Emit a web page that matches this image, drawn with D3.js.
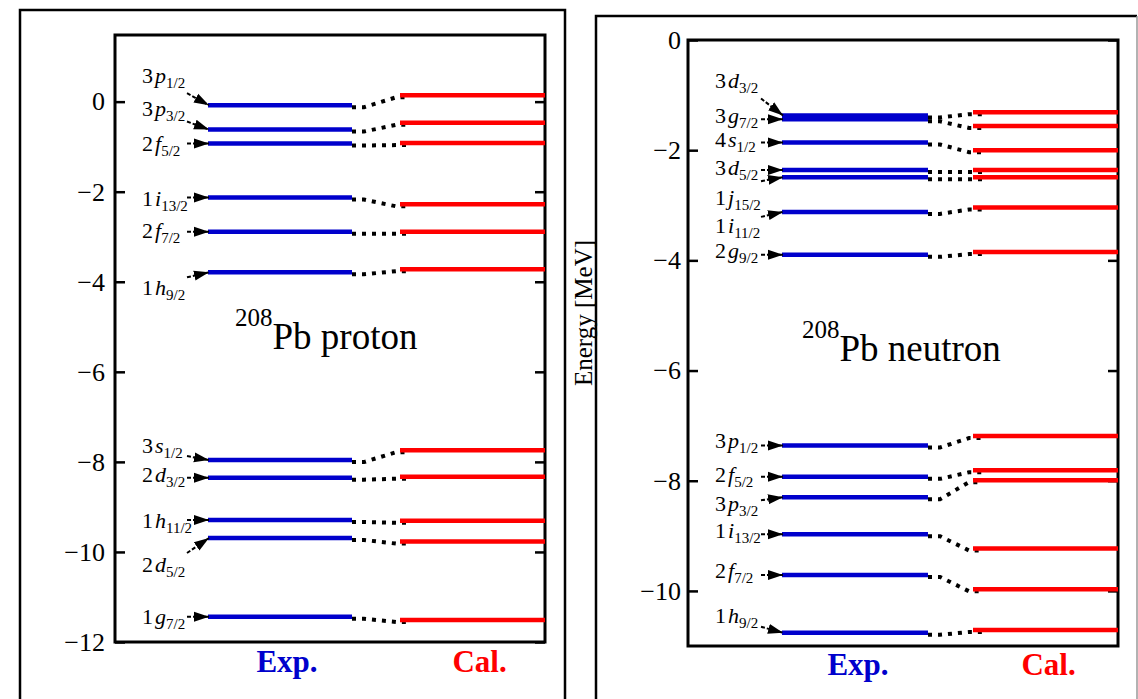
<!DOCTYPE html>
<html><head><meta charset="utf-8">
<script src="https://cdn.jsdelivr.net/npm/d3@7"></script>
<style>body{margin:0;background:#fff} svg{display:block}</style>
</head><body>
<svg id="chart" width="1138" height="699"></svg>
<script>
// ---------------- data ----------------
const protonStates = ["3p1/2","3p3/2","2f5/2","1i13/2","2f7/2","1h9/2","3s1/2","2d3/2","1h11/2","2d5/2","1g7/2"];
const protonExp = [-0.08,-0.62,-0.93,-2.13,-2.89,-3.79,-7.96,-8.35,-9.29,-9.69,-11.44];
const protonCal = [0.14,-0.47,-0.92,-2.28,-2.89,-3.72,-7.74,-8.33,-9.31,-9.77,-11.51];
const protonTicks = [0,-2,-4,-6,-8,-10,-12];

const neutronStates = ["3d3/2","3g7/2","4s1/2","3d5/2","1j15/2","1i11/2","2g9/2","3p1/2","2f5/2","3p3/2","1i13/2","2f7/2","1h9/2"];
const neutronExp = [-1.37,-1.44,-1.86,-2.36,-2.49,-3.12,-3.90,-7.36,-7.93,-8.30,-8.97,-9.71,-10.76];
const neutronCal = [-1.31,-1.56,-2.00,-2.36,-2.49,-3.04,-3.85,-7.19,-7.81,-7.99,-9.23,-9.97,-10.71];
const neutronTicks = [0,-2,-4,-6,-8,-10];

const columns = ["Exp.","Cal."];
const yTitle = "Energy [MeV]";

// ---------------- layout (label offsets in px relative to bar) ----------------
const protonLabelDy = [-22,-14,7,8,6,23,-7,4,8,34,7];
const protonArrowDy = [-12,-8,0,0,0,5,-4,0,0,15,0];
const neutronLabelDy = [-27,4,5,5,28,21,3,3,5,14,4,3,-10];
const neutronArrowDy = [-17,0,0,0,4,5,0,0,0,3,0,0,-6];

const BLUE = "#0000cc", RED = "#ff0000";
const SERIF = "Liberation Serif, DejaVu Serif, serif";

const svg = d3.select("#chart");
svg.append("defs").append("marker")
  .attr("id","tri").attr("markerUnits","userSpaceOnUse")
  .attr("viewBox","0 -6 15 12").attr("refX",15).attr("refY",0)
  .attr("markerWidth",15).attr("markerHeight",12).attr("orient","auto")
  .append("path").attr("d","M0,-5L15,0L0,5Z").attr("fill","#000");

function panel(cfg) {
  const g = svg.append("g");
  const y = d3.scaleLinear().domain(cfg.domain).range([cfg.plot.y1, cfg.plot.y0]);
  const x = d3.scaleOrdinal().domain(columns).range([cfg.expX, cfg.calX]);

  // outer frame
  g.append("path").attr("d", cfg.outer).attr("fill","none").attr("stroke","#000").attr("stroke-width",2.5);

  // axes
  const la = g.append("g").attr("transform",`translate(${cfg.plot.x0},0)`)
    .call(d3.axisLeft(y).tickValues(cfg.ticks).tickSizeInner(-10).tickSizeOuter(0).tickPadding(cfg.pad).tickFormat(d3.format("d")));
  la.attr("font-family", SERIF).attr("font-size", 26);
  la.select(".domain").remove();
  la.selectAll("line").attr("stroke","#000").attr("stroke-width",2.5);
  la.selectAll("text").style("font-family",SERIF).style("font-size","26px").attr("fill","#000");
  const ra = g.append("g").attr("transform",`translate(${cfg.plot.x1},0)`)
    .call(d3.axisRight(y).tickValues(cfg.ticks).tickSizeInner(-10).tickSizeOuter(0).tickFormat(""));
  ra.select(".domain").remove();
  ra.selectAll("line").attr("stroke","#000").attr("stroke-width",2.5);

  // inner frame
  g.append("rect").attr("x",cfg.plot.x0).attr("y",cfg.plot.y0)
    .attr("width",cfg.plot.x1-cfg.plot.x0).attr("height",cfg.plot.y1-cfg.plot.y0)
    .attr("fill","none").attr("stroke","#000").attr("stroke-width",3);

  const idx = d3.range(cfg.states.length);
  const ex = x("Exp."), cx = x("Cal.");

  // connectors
  g.selectAll(".conn").data(idx).join("path")
    .attr("d", i => d3.line()([[ex[1], y(cfg.exp[i])+2],[ex[1]+12, y(cfg.exp[i])+2],[cx[0]-4, y(cfg.cal[i])+2],[cx[0]+9, y(cfg.cal[i])+2]]))
    .attr("fill","none").attr("stroke","#000").attr("stroke-width",4).attr("stroke-dasharray","4,6");

  // bars
  g.selectAll(".exp").data(idx).join("line")
    .attr("x1",ex[0]).attr("x2",ex[1]).attr("y1",i=>y(cfg.exp[i])).attr("y2",i=>y(cfg.exp[i]))
    .attr("stroke",BLUE).attr("stroke-width",4.5);
  g.selectAll(".cal").data(idx).join("line")
    .attr("x1",cx[0]).attr("x2",cx[1]).attr("y1",i=>y(cfg.cal[i])).attr("y2",i=>y(cfg.cal[i]))
    .attr("stroke",RED).attr("stroke-width",4.5);

  // arrows
  g.selectAll(".arr").data(idx).join("line")
    .attr("x1", ex[0]-21).attr("y1", i => y(cfg.exp[i]) + cfg.ady[i])
    .attr("x2", ex[0]+1).attr("y2", i => y(cfg.exp[i]))
    .attr("stroke","#000").attr("stroke-width",2).attr("stroke-dasharray","4,2")
    .attr("marker-end","url(#tri)");

  // labels
  const t = g.selectAll(".lab").data(idx).join("text")
    .attr("x", cfg.labelX).attr("y", i => y(cfg.exp[i]) + cfg.dy[i])
    .style("font-family",SERIF).attr("font-size",22).attr("fill","#000");
  t.append("tspan").text(i => cfg.states[i][0]);
  t.append("tspan").attr("dx",2).attr("font-style","italic").text(i => cfg.states[i][1]);
  t.append("tspan").attr("font-size",15).attr("dy",5).text(i => cfg.states[i].slice(2));

  // title
  const tt = g.append("text").attr("x",cfg.titleX).attr("y",cfg.titleY).style("font-family",SERIF).attr("fill","#000");
  tt.append("tspan").attr("font-size",25).attr("dy",-23).text("208");
  tt.append("tspan").attr("font-size",37).attr("dy",23).text(cfg.title);

  // column labels
  g.selectAll(".col").data(columns).join("text")
    .attr("x", d => (x(d)[0]+x(d)[1])/2 + cfg.colShift).attr("y", cfg.colY)
    .attr("text-anchor","middle").style("font-family",SERIF).attr("font-weight","bold").attr("font-size",31)
    .attr("fill", d => d === "Exp." ? BLUE : RED).text(d => d);
  return g;
}

panel({
  states: protonStates, exp: protonExp, cal: protonCal, ticks: protonTicks,
  dy: protonLabelDy, ady: protonArrowDy,
  domain: [-12, 1.48], plot: {x0:115, x1:545, y0:35, y1:642},
  expX: [208,352], calX: [400,545], pad: 10, labelX: 142,
  outer: "M20,720V10H565V720", title: "Pb proton", titleX: 235, titleY: 349,
  colY: 672, colShift: 7
});
panel({
  states: neutronStates, exp: neutronExp, cal: neutronCal, ticks: neutronTicks,
  dy: neutronLabelDy, ady: neutronArrowDy,
  domain: [-11, 0], plot: {x0:688, x1:1118, y0:40, y1:646},
  expX: [782,928], calX: [973,1118], pad: 7, labelX: 715,
  outer: "M596,720V16H1137", title: "Pb neutron", titleX: 802, titleY: 361,
  colY: 675, colShift: 3
});
svg.append("line").attr("x1",1137).attr("x2",1137).attr("y1",16).attr("y2",699)
  .attr("stroke","#999").attr("stroke-width",1.5);

svg.append("text").attr("transform","translate(592,313) rotate(-90)")
  .attr("text-anchor","middle").style("font-family",SERIF).attr("font-size",25).attr("fill","#000")
  .text(yTitle);
</script>
</body></html>
